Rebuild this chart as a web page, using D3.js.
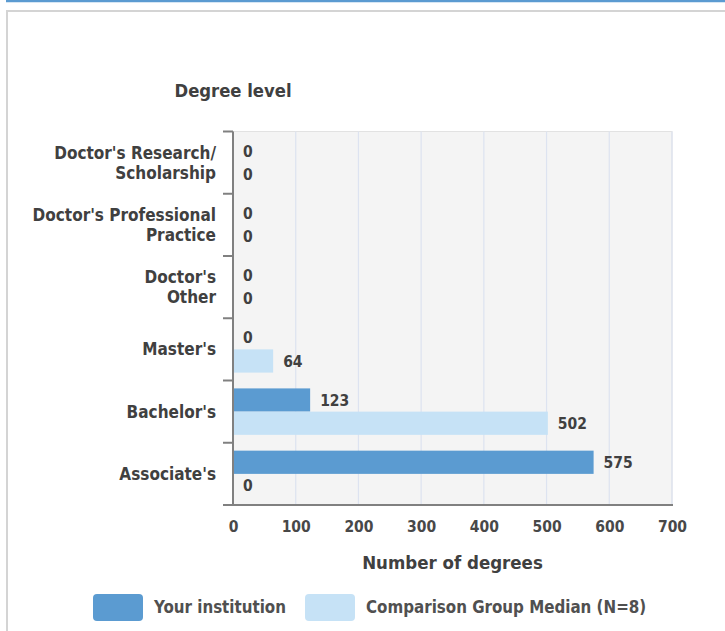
<!DOCTYPE html>
<html>
<head>
<meta charset="utf-8">
<script src="https://cdn.jsdelivr.net/npm/d3@7"></script>
<style>
  body { margin: 0; background: #fff; }
  svg { display: block; font-family: "DejaVu Sans Condensed", "DejaVu Sans", sans-serif; font-stretch: condensed; }
</style>
</head>
<body>
<svg id="chart" width="725" height="631"></svg>
<script>
// degree levels, top to bottom
const levels = [
  "Doctor's Research/\nScholarship",
  "Doctor's Professional\nPractice",
  "Doctor's\nOther",
  "Master's",
  "Bachelor's",
  "Associate's"
];
const series = ["Your institution", "Comparison Group Median (N=8)"];
const yourValues = [0, 0, 0, 0, 123, 575];
const groupValues = [0, 0, 0, 64, 502, 0];
const xTicks = [0, 100, 200, 300, 400, 500, 600, 700];

const colors = ["#5b9bd1", "#c6e2f6"];

let rows = levels.map((l, i) => ({ level: l, vals: [yourValues[i], groupValues[i]] }));

let svg = d3.select("#chart");

// frame
svg.append("line").attr("x1", 6).attr("x2", 725).attr("y1", 1).attr("y2", 1)
  .attr("stroke", "#5b9bd1").attr("stroke-width", 2.5);
svg.append("path").attr("d", "M7,631V11H725")
  .attr("fill", "none").attr("stroke", "#d4d4d4").attr("stroke-width", 2);

let pLeft = 233, pRight = 672, pTop = 131.5, pBottom = 505;

let x = d3.scaleLinear().domain([0, 700]).range([pLeft, pRight]);
let y = d3.scaleBand().domain(levels).range([pTop, pBottom]);
let sub = d3.scaleBand().domain([0, 1]).range([0, y.bandwidth()]).paddingOuter(0.34);

// plot background
svg.append("rect").attr("x", pLeft).attr("y", pTop)
  .attr("width", pRight - pLeft).attr("height", pBottom - pTop)
  .attr("fill", "#f4f4f4").attr("stroke", "#e2e2e2").attr("stroke-width", 1);

// grid
svg.append("g").selectAll("line")
  .data(xTicks.slice(1))
  .enter().append("line")
  .attr("x1", d => x(d)).attr("x2", d => x(d))
  .attr("y1", pTop).attr("y2", pBottom)
  .attr("stroke", "#dde3f0").attr("stroke-width", 1.2);

// bars
let groups = svg.append("g").selectAll("g")
  .data(rows)
  .enter().append("g")
  .attr("transform", d => `translate(0,${y(d.level)})`);

groups.selectAll("rect")
  .data(d => d.vals.map((v, i) => ({ v: v, i: i })))
  .enter().append("rect")
  .attr("x", x(0))
  .attr("y", d => sub(d.i))
  .attr("width", d => x(d.v) - x(0))
  .attr("height", sub.bandwidth())
  .attr("fill", d => colors[d.i]);

groups.selectAll("text")
  .data(d => d.vals.map((v, i) => ({ v: v, i: i })))
  .enter().append("text")
  .attr("x", d => x(d.v) + 10)
  .attr("y", d => sub(d.i) + sub.bandwidth() / 2)
  .attr("dy", "0.36em")
  .attr("font-size", 15.5)
  .attr("font-weight", "bold")
  .attr("fill", "#404040")
  .text(d => d.v);

// x axis
let xAxis = svg.append("g")
  .attr("transform", `translate(0,${pBottom})`)
  .call(d3.axisBottom(x).tickValues(xTicks).tickSize(0).tickPadding(16));
xAxis.attr("font-family", null).attr("font-size", 15.5);
xAxis.select(".domain").remove();
xAxis.selectAll("text")
  .attr("font-weight", "bold").attr("fill", "#484848");

svg.append("line").attr("x1", pLeft - 10).attr("x2", pRight + 1)
  .attr("y1", pBottom).attr("y2", pBottom)
  .attr("stroke", "#808080").attr("stroke-width", 2);

// y axis with ticks on band edges
svg.append("line").attr("x1", pLeft).attr("x2", pLeft)
  .attr("y1", pTop).attr("y2", pBottom)
  .attr("stroke", "#808080").attr("stroke-width", 2);
svg.append("g").selectAll("line")
  .data(levels)
  .enter().append("line")
  .attr("x1", pLeft - 10).attr("x2", pLeft)
  .attr("y1", d => y(d)).attr("y2", d => y(d))
  .attr("stroke", "#808080").attr("stroke-width", 2);

// category labels
svg.append("g").selectAll("text")
  .data(levels)
  .enter().append("text")
  .attr("text-anchor", "end")
  .attr("font-size", 17)
  .attr("font-weight", "bold")
  .attr("fill", "#404040")
  .each(function(d) {
    let lines = d.split("\n");
    let cy = y(d) + y.bandwidth() / 2;
    lines.forEach((t, i) => {
      d3.select(this).append("tspan")
        .attr("x", pLeft - 17)
        .attr("y", cy + (i - (lines.length - 1) / 2) * 20)
        .attr("dy", "0.36em")
        .text(t);
    });
  });

// titles
svg.append("text").attr("x", pLeft).attr("y", 97)
  .attr("text-anchor", "middle").attr("font-size", 18.3).attr("font-weight", "bold")
  .attr("fill", "#404040").text("Degree level");
svg.append("text").attr("x", (pLeft + pRight) / 2).attr("y", 569)
  .attr("text-anchor", "middle").attr("font-size", 18.5).attr("font-weight", "bold")
  .attr("fill", "#404040").text("Number of degrees");

// legend
let legendX = [93, 305];
let legend = svg.append("g").selectAll("g")
  .data(series)
  .enter().append("g")
  .attr("transform", (d, i) => `translate(${legendX[i]},594)`);
legend.append("rect")
  .attr("width", 50).attr("height", 27).attr("rx", 4)
  .attr("fill", (d, i) => colors[i]);
legend.append("text")
  .attr("x", 61).attr("y", 18.5)
  .attr("font-size", 16.8)
  .attr("font-weight", "bold")
  .attr("fill", "#505050")
  .text(d => d);
</script>
</body>
</html>
